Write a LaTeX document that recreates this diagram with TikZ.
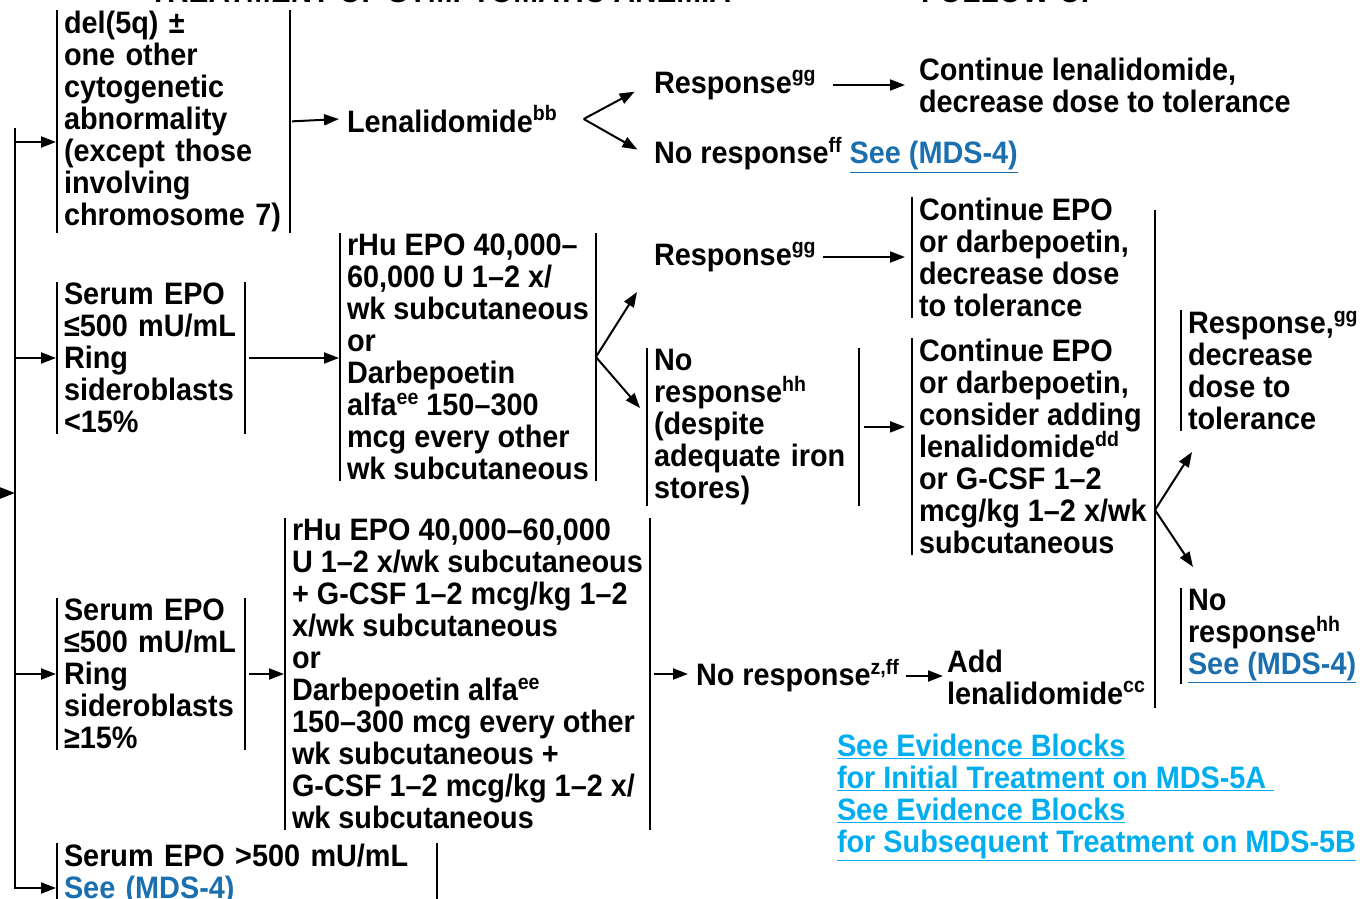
\documentclass[tikz,border=0pt]{standalone}
\usepackage{fontspec}
\setmainfont{Liberation Sans}[FakeStretch=0.93]
\usepackage[dvipsnames]{xcolor}
\usetikzlibrary{arrows.meta,positioning,calc}

\definecolor{mdsblue}{HTML}{1B6FAE}
\definecolor{evblue}{HTML}{00AEEF}
\newcommand{\boxfont}{\fontsize{31}{32}\selectfont\bfseries\lineskiplimit=-20pt\relax}
\newcommand{\supnote}[1]{\raisebox{0.36em}{\fontsize{21}{21}\selectfont #1}}
\newcommand{\seelink}[1]{\textcolor{mdsblue}{\underline{#1}}}
\newcommand{\evlink}[1]{\textcolor{evblue}{\underline{#1}}}

\begin{document}
\begin{tikzpicture}[->,>={Triangle[length=15pt,width=11pt]},shorten >=1pt,x=1pt,y=-1pt,line width=2pt,
    font=\boxfont,
    every node/.style={inner sep=0pt},
    box/.style={anchor=north west,align=left,inner xsep=6pt,inner ysep=0pt},
    tag/.style={anchor=west,align=left,inner xsep=6pt,inner ysep=0pt},
    bar/.style={-,shorten >=0pt},
    head/.style={anchor=base west,font=\fontsize{32}{34}\selectfont\bfseries}]

            \useasboundingbox (0,0) rectangle (1363,898);

            % headings, cut by the top edge
            \node[head] (headtx) at (148,2) {TREATMENT OF SYMPTOMATIC ANEMIA};
            \node[head] (headfu) at (920,2) {FOLLOW-UP};

            % first column
            \node[box,text width=219pt] (del) at (57,10) {del(5q) ±\\one other\\cytogenetic\\abnormality\\(except those\\involving\\chromosome 7)};
            \node[box,text width=174pt] (epoA) at (57,282) {Serum EPO\\≤500 mU/mL\\Ring\\sideroblasts\\<15\%};
            \node[box,text width=174pt] (epoB) at (57,598) {Serum EPO\\≤500 mU/mL\\Ring\\sideroblasts\\≥15\%};
            \node[box,text width=366pt] (epoC) at (57,843) {Serum EPO >500 mU/mL\\\seelink{See (MDS-4)}};

            % treatment
            \node[tag] (len) at (340,119) {Lenalidomide\supnote{bb}};
            \node[box] (rhuA) at (340,233) {rHu EPO 40,000–\\60,000 U 1–2 x/\\wk subcutaneous\\or\\Darbepoetin\\alfa\supnote{ee} 150–300\\mcg every other\\wk subcutaneous};
            \node[box] (rhuB) at (285,518) {rHu EPO 40,000–60,000\\U 1–2 x/wk subcutaneous\\+ G-CSF 1–2 mcg/kg 1–2\\x/wk subcutaneous\\or\\Darbepoetin alfa\supnote{ee}\\150–300 mcg every other\\wk subcutaneous +\\G-CSF 1–2 mcg/kg 1–2 x/\\wk subcutaneous};

            % follow-up
            \node[tag] (resp1) at (647,85) {Response\supnote{gg}};
            \node[tag] (cont1) at (912,85) {Continue lenalidomide,\\decrease dose to tolerance};
            \node[tag] (nr1) at (647,155) {No response\supnote{ff} \seelink{See (MDS-4)}};
            \node[tag] (resp2) at (647,257) {Response\supnote{gg}};
            \node[box] (contA) at (912,197) {Continue EPO\\or darbepoetin,\\decrease dose\\to tolerance};
            \node[box,text width=198pt] (nrA) at (647,348) {No\\response\supnote{hh}\\(despite\\adequate iron\\stores)};
            \node[box] (contB) at (912,338) {Continue EPO\\or darbepoetin,\\consider adding\\lenalidomide\supnote{dd}\\or G-CSF 1–2\\mcg/kg 1–2 x/wk\\subcutaneous};
            \node[box] (respC) at (1181,310) {Response,\supnote{gg}\\decrease\\dose to\\tolerance};
            \node[box] (nrC) at (1181,588) {No\\response\supnote{hh}\\\seelink{See (MDS-4)}};
            \node[tag] (nr3) at (689,676) {No response\supnote{z,ff}};
            \node[tag,inner xsep=2pt] (addlen) at (944,677) {Add\\lenalidomide\supnote{cc}};
            \node[box] (evid) at (830,733) {\evlink{See Evidence Blocks}\\\evlink{for Initial Treatment on MDS-5A }\\\evlink{See Evidence Blocks}\\\evlink{for Subsequent Treatment on MDS-5B}};

            % side bars of the boxes
            \foreach \n in {del,epoA,epoB,epoC,rhuA,rhuB,contA,nrA,contB,respC,nrC}
                \draw[bar] (\n.north west) -- (\n.south west);
            \foreach \n in {del,epoA,epoB,epoC,rhuA,rhuB,nrA}
                \draw[bar] (\n.north east) -- (\n.south east);

            % trunk on the left
            \coordinate (entry) at (0,493);
            \coordinate (trT) at (15,128);
            \coordinate (trB) at (15,888);
            \coordinate (brA) at (15,142);
            \draw[shorten >=0pt] (entry) -- (entry -| trT);
            \draw (trT) -- (trB) -- (trB -| epoC.west);
            \draw (brA) -- (brA -| del.west);
            \foreach \n in {epoA,epoB}
                \draw (trT |- \n.west) -- (\n.west);

            % forks
            \coordinate[right=20pt of len] (fkA);
            \coordinate (sepT) at (1155,210);
            \coordinate (sepB) at (1155,708);
            \coordinate (fkC) at (1155,510);
            \coordinate (tp2a) at (637,292);
            \coordinate (tp2b) at (640,408);
            \coordinate (tp3a) at (1192,452);
            \coordinate (tp3b) at (1193,567);
            \draw[bar] (sepT) -- (sepB);

            \draw[shorten >=14pt] (fkA) -- (resp1.west);
            \draw[shorten >=11pt] (fkA) -- (nr1.west);
            \draw[shorten >=0pt] (rhuA.east) -- (tp2a);
            \draw[shorten >=0pt] (rhuA.east) -- (tp2b);
            \draw[shorten >=0pt] (fkC) -- (tp3a);
            \draw[shorten >=0pt] (fkC) -- (tp3b);

            % steps
            \draw[shorten <=2pt] (del.east) -- (len.west);
            \draw[shorten <=10pt,shorten >=7pt] (resp1) -- (cont1);
            \draw[shorten <=4pt] (epoA.east) -- (epoA.east -| rhuA.west);
            \draw[shorten >=7pt] (resp2) -- (resp2 -| contA.west);
            \draw[shorten <=5pt,shorten >=7pt] (nrA.east) -- (nrA.east -| contB.west);
            \draw[shorten <=4pt] (epoB.east) -- (epoB.east -| rhuB.west);
            \draw[shorten <=4pt] (rhuB.east) -- (rhuB.east -| nr3.west);
            \draw (nr3.east) -- (nr3.east -| addlen.west);

        \end{tikzpicture}
\end{document}
